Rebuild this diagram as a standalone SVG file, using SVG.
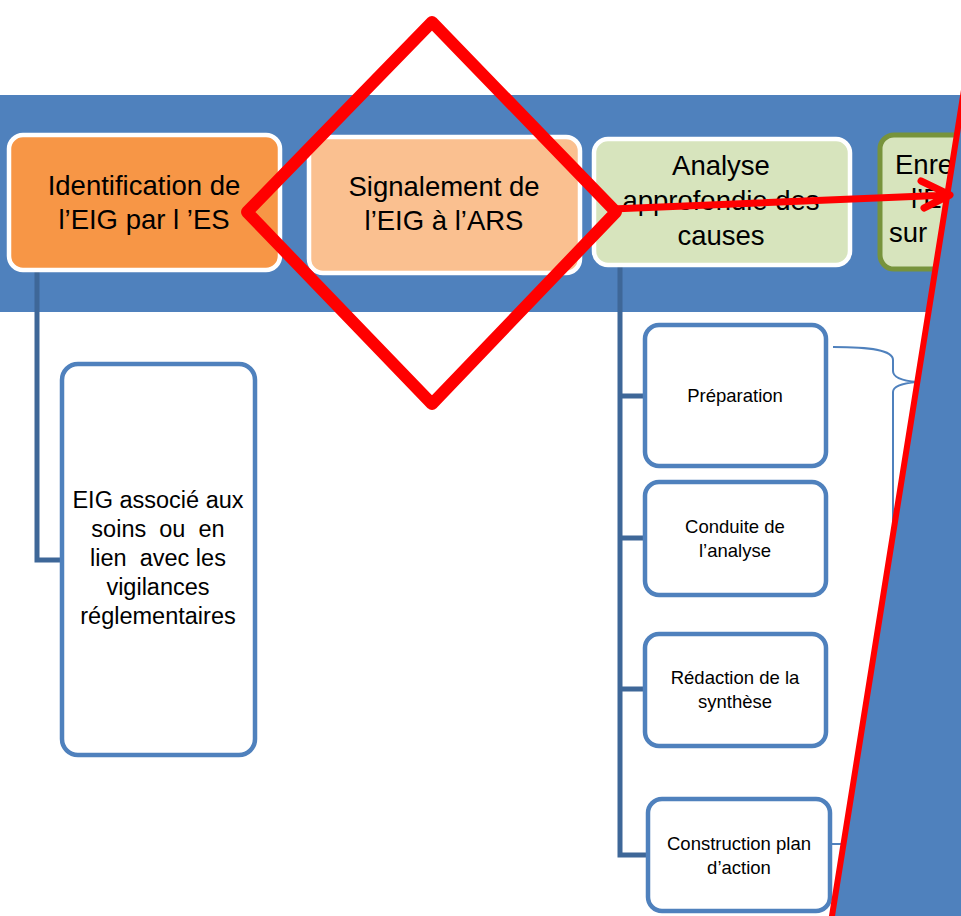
<svg xmlns="http://www.w3.org/2000/svg" width="961" height="916" viewBox="0 0 961 916">
<style>
.hdr{font-family:"Liberation Sans",Arial,sans-serif;font-size:27.5px;fill:#000;text-anchor:middle}
.sub{font-family:"Liberation Sans",Arial,sans-serif;font-size:18.5px;fill:#000;text-anchor:middle}
.big{font-family:"Liberation Sans",Arial,sans-serif;font-size:23.5px;fill:#000;text-anchor:middle}
.wbox{stroke:#fff;stroke-width:4.5}
.bbox{fill:#fff;stroke:#4F81BD;stroke-width:4.5}
.conn{fill:none;stroke:#3E6798;stroke-width:5}
.red{fill:none;stroke:#FF0000;stroke-linecap:round;stroke-linejoin:round}
</style>
<rect x="0" y="0" width="961" height="916" fill="#fff"/>
<rect id="band" x="0" y="95" width="961" height="217" fill="#4F81BD"/>

<g id="connectors">
<path class="conn" d="M37,270 V560 H62"/>
<path class="conn" d="M620,266 V855 H647 M620,396 H645 M620,538 H645 M620,689 H645"/>
<path d="M833,347 C870,347 893,350 893,360 L893,371 C893,378 905,381 917,382 C905,383 893,385 893,392 L893,834 C893,841 870,844 831,844" fill="none" stroke="#4F81BD" stroke-width="2"/>
</g>

<g id="n1">
<rect class="wbox" x="9" y="135" width="271" height="135" rx="14" fill="#F79646"/>
<text class="hdr" x="144" y="195">Identification de</text>
<text class="hdr" x="144" y="229">l’EIG par l ’ES</text>
</g>
<g id="n2">
<rect class="wbox" x="309" y="137" width="271" height="136" rx="14" fill="#FAC090"/>
<text class="hdr" x="444" y="196">Signalement de</text>
<text class="hdr" x="444" y="230">l’EIG à l’ARS</text>
</g>
<g id="n3">
<rect class="wbox" x="594" y="139" width="256" height="126" rx="14" fill="#D7E4BD"/>
<text class="hdr" x="721" y="175">Analyse</text>
<text class="hdr" x="721" y="210">approfondie des</text>
<text class="hdr" x="721" y="245">causes</text>
</g>
<g id="n4">
<rect x="880" y="135" width="160" height="134" rx="14" fill="#D7E4BD" stroke="#77933C" stroke-width="5"/>
<text class="hdr" x="895" y="174" style="text-anchor:start">Enre</text>
<text class="hdr" x="911" y="208" style="text-anchor:start">l’E</text>
<text class="hdr" x="889" y="242" style="text-anchor:start">sur</text>
</g>
<g id="n5">
<rect class="bbox" x="62" y="364" width="193" height="391" rx="16"/>
<text class="big" x="158" y="508">EIG associé aux</text>
<text class="big" x="158" y="537" xml:space="preserve">soins  ou  en</text>
<text class="big" x="158" y="566" xml:space="preserve">lien  avec les</text>
<text class="big" x="158" y="595">vigilances</text>
<text class="big" x="158" y="624">réglementaires</text>
</g>
<g id="n6">
<rect class="bbox" x="645" y="325" width="181" height="141" rx="14"/>
<text class="sub" x="735" y="402">Préparation</text>
</g>
<g id="n7">
<rect class="bbox" x="645" y="482" width="181" height="113" rx="14"/>
<text class="sub" x="735" y="533">Conduite de</text>
<text class="sub" x="735" y="557">l’analyse</text>
</g>
<g id="n8">
<rect class="bbox" x="645" y="634" width="181" height="112" rx="14"/>
<text class="sub" x="735" y="684">Rédaction de la</text>
<text class="sub" x="735" y="708">synthèse</text>
</g>
<g id="n9">
<rect class="bbox" x="648" y="799" width="182" height="112" rx="14"/>
<text class="sub" x="739" y="850">Construction plan</text>
<text class="sub" x="739" y="874">d’action</text>
</g>

<polygon id="cover" points="963,95 961,95 961,916 832,916" fill="#4F81BD"/>

<g id="overlay">
<polygon class="red" points="432,22 616,212 432,404 247,212" stroke-width="12"/>
<line class="red" x1="964" y1="90" x2="832" y2="916" stroke-width="6"/>
<path class="red" d="M612,209 L949,195 M921,181 L950,195 L924,208" stroke-width="7"/>
</g>
</svg>
